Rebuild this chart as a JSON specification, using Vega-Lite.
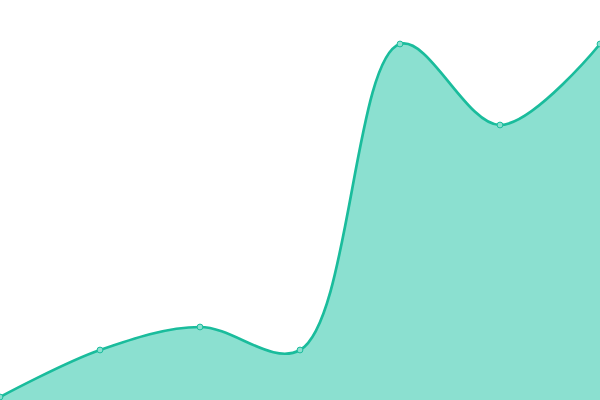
{
  "$schema": "https://vega.github.io/schema/vega-lite/v6.json",
  "width": 600,
  "height": 400,
  "autosize": {"type": "none"},
  "padding": 0,
  "background": "white",
  "data": {
    "values": [
      {"x": 0, "y": 3},
      {"x": 1, "y": 50},
      {"x": 2, "y": 73},
      {"x": 3, "y": 50},
      {"x": 4, "y": 356},
      {"x": 5, "y": 275},
      {"x": 6, "y": 356}
    ]
  },
  "encoding": {
    "x": {"field": "x", "type": "quantitative", "axis": null, "scale": {"domain": [0, 6], "nice": false, "zero": false}},
    "y": {"field": "y", "type": "quantitative", "axis": null, "scale": {"domain": [0, 400], "nice": false}}
  },
  "layer": [
    {
      "mark": {"type": "area", "interpolate": "catmull-rom", "color": "#8be0d0", "opacity": 1, "clip": true}
    },
    {
      "mark": {"type": "line", "interpolate": "catmull-rom", "color": "#1abc9c", "strokeWidth": 2.7, "clip": true}
    },
    {
      "mark": {"type": "point", "filled": false, "size": 34, "stroke": "#1abc9c", "strokeWidth": 1, "fill": "#8be0d0", "opacity": 1, "clip": true}
    }
  ],
  "config": {"view": {"stroke": null}}
}
